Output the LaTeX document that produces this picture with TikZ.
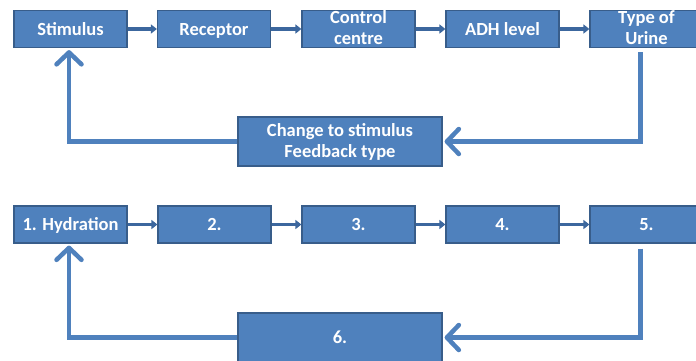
\documentclass[tikz,border=0pt]{standalone}
\usepackage{fontspec}
\setmainfont{Carlito}
\usetikzlibrary{arrows.meta}
\definecolor{boxblue}{HTML}{4F81BD}
\definecolor{boxedge}{HTML}{385D8A}
\definecolor{linkblue}{HTML}{3C679E}
\newcommand\rowstrut{\rule[-2.5pt]{0pt}{17.5pt}}
\tikzset{
  stage/.style={draw=boxedge, line width=1.2pt, fill=boxblue, text=white,
    font=\fontsize{18.5}{21}\selectfont\bfseries, minimum width=113pt,
    minimum height=37pt, inner sep=0pt, align=center,
    execute at begin node={\rowstrut}},
  wide/.style={stage, minimum width=204pt, minimum height=49pt},
  link/.style={draw=linkblue, line width=3.5pt, -{Triangle[length=6pt,width=9pt]}},
  feedback/.style={draw=boxblue, line width=4.5pt, -{Straight Barb[length=12pt,width=25pt,round]}}
}
\begin{document}
\begin{tikzpicture}[x=1pt,y=-1pt]
  \useasboundingbox[fill=white] (0,0) rectangle (696,360);

  % Top: named loop
  \node[stage] (stim) at (70.5, 29) {Stimulus};
  \node[stage] (recep) at (214, 29) {Receptor};
  \node[stage] (ctrl) at (358.5, 29) {Control\\\rowstrut centre};
  \node[stage] (adh) at (502.5, 29) {ADH level};
  \node[stage] (urine) at (646.5, 29) {Type of\\\rowstrut Urine};
  \node[wide] (change) at (340, 141.5) {Change to stimulus\\\rowstrut Feedback type};
  \draw[link] (stim) -- (recep);
  \draw[link] (recep) -- (ctrl);
  \draw[link] (ctrl) -- (adh);
  \draw[link] (adh) -- (urine);
  \draw[feedback] ([xshift=-6pt, yshift=-4pt]urine.south) |- ([xshift=2pt]change.east);
  \draw[feedback] (change.west) -| ([xshift=-1.5pt, yshift=-2pt]stim.south);

  % Bottom: numbered loop
  \node[stage] (hydr) at (70.5, 224.5) {1. Hydration};
  \node[stage] (two) at (214.5, 224.5) {2.};
  \node[stage] (three) at (358.5, 224.5) {3.};
  \node[stage] (four) at (502.5, 224.5) {4.};
  \node[stage] (five) at (646.5, 224.5) {5.};
  \node[wide] (six) at (340, 337.5) {6.};
  \draw[link] (hydr) -- (two);
  \draw[link] (two) -- (three);
  \draw[link] (three) -- (four);
  \draw[link] (four) -- (five);
  \draw[feedback] ([xshift=-6pt, yshift=-5pt]five.south) |- ([xshift=2pt]six.east);
  \draw[feedback] (six.west) -| ([xshift=-1.5pt, yshift=-2pt]hydr.south);
\end{tikzpicture}
\end{document}
